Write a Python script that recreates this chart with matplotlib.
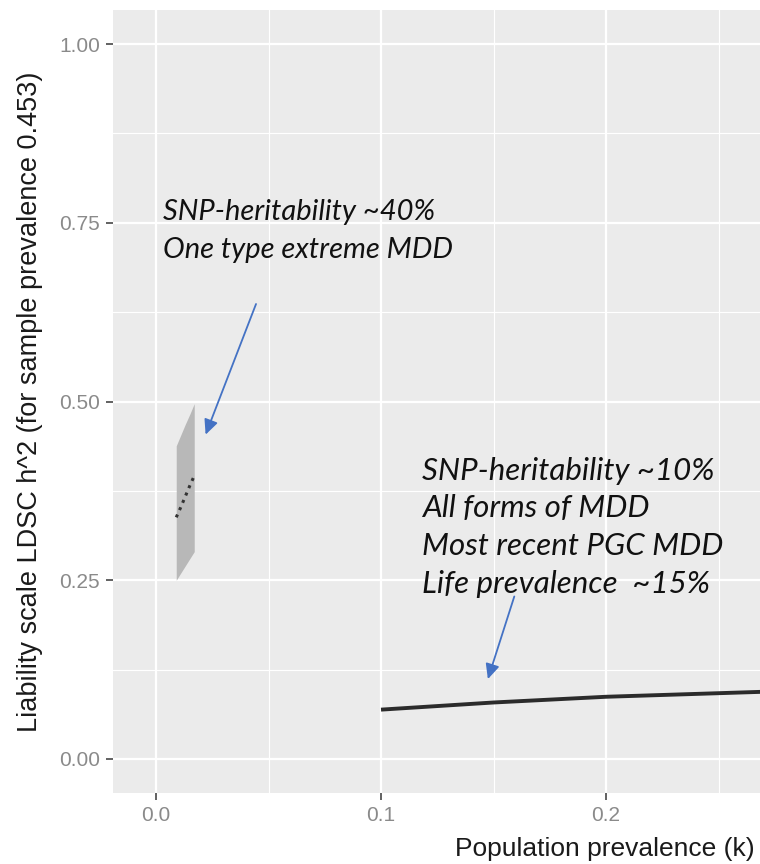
import matplotlib
matplotlib.use('Agg')
import matplotlib.pyplot as plt
import numpy as np

# extreme MDD subset (small prevalence) : estimate + ribbon
k_extreme = [0.009, 0.011, 0.013, 0.015, 0.017]
h2_extreme = [0.338, 0.352, 0.367, 0.382, 0.396]
lo_extreme = [0.250, 0.260, 0.270, 0.280, 0.290]
hi_extreme = [0.438, 0.453, 0.468, 0.482, 0.497]

# all forms of MDD (k >= 0.1)
k_all = [0.10, 0.15, 0.20, 0.25, 0.30]
h2_all = [0.069, 0.079, 0.087, 0.092, 0.097]

x_ticks = [0.0, 0.1, 0.2]
x_tick_labels = ['0.0', '0.1', '0.2']
y_ticks = [0.0, 0.25, 0.5, 0.75, 1.0]
y_tick_labels = ['0.00', '0.25', '0.50', '0.75', '1.00']

note_extreme = 'SNP-heritability ~40%\nOne type extreme MDD'
note_all = 'SNP-heritability ~10%\nAll forms of MDD\nMost recent PGC MDD\nLife prevalence  ~15%'

fig = plt.figure(figsize=(7.6, 8.64), dpi=100)
ax = fig.add_axes([113/760, 1 - 793/864, 1 - 113/760, (793 - 10)/864])
ax.set_facecolor('#EBEBEB')

ax.set_xlim(-0.0191, 0.2684)
ax.set_ylim(-0.0476, 1.0476)

ax.set_xticks(x_ticks)
ax.set_xticklabels(x_tick_labels)
ax.set_yticks(y_ticks)
ax.set_yticklabels(y_tick_labels)
ax.set_xticks([0.05, 0.15, 0.25], minor=True)
ax.set_yticks([0.125, 0.375, 0.625, 0.875], minor=True)
ax.grid(which='major', color='white', linewidth=1.6)
ax.grid(which='minor', color='white', linewidth=0.8)
ax.set_axisbelow(True)
for s in ax.spines.values():
    s.set_visible(False)
ax.tick_params(which='major', length=5, width=1.3, color='#555555',
               labelcolor='#8A8A8A', labelsize=15, pad=4.5)
ax.tick_params(which='minor', length=0)
for lab in ax.get_xticklabels() + ax.get_yticklabels():
    lab.set_family('Liberation Sans')

ax.fill_between(k_extreme, lo_extreme, hi_extreme, color='#B8B8B8', linewidth=0)
ax.plot(k_extreme, h2_extreme, color='#333333', linewidth=2.2, linestyle=(0, (1, 1.6)))
ax.plot(k_all, h2_all, color='#2B2B2B', linewidth=2.8, solid_capstyle='butt')

ax.set_xlabel('Population prevalence (k)', family='Liberation Sans', fontsize=19,
              color='#1A1A1A', loc='right')
ax.xaxis.set_label_coords(0.992, -0.056)
ax.set_ylabel('Liability scale LDSC h^2 (for sample prevalence 0.453)',
              family='Liberation Sans', fontsize=19.5, color='#1A1A1A')
ax.yaxis.set_label_coords(-0.108, 0.5)

ax.text(0.0032, 0.7385, note_extreme, fontsize=21, style='italic', family='Lato',
        color='#111111', va='center', linespacing=1.55)
ax.text(0.1183, 0.324, note_all, fontsize=22.5, style='italic', family='Lato',
        color='#111111', va='center', linespacing=1.42)

arrow_kw = dict(arrowstyle='-|>,head_length=0.9,head_width=0.42', color='#4472C4', lw=1.3)
ax.annotate('', xy=(0.0216, 0.450), xytext=(0.0449, 0.640), arrowprops=arrow_kw)
ax.annotate('', xy=(0.1471, 0.108), xytext=(0.1596, 0.231), arrowprops=arrow_kw)

fig.savefig('out.png', dpi=100)
